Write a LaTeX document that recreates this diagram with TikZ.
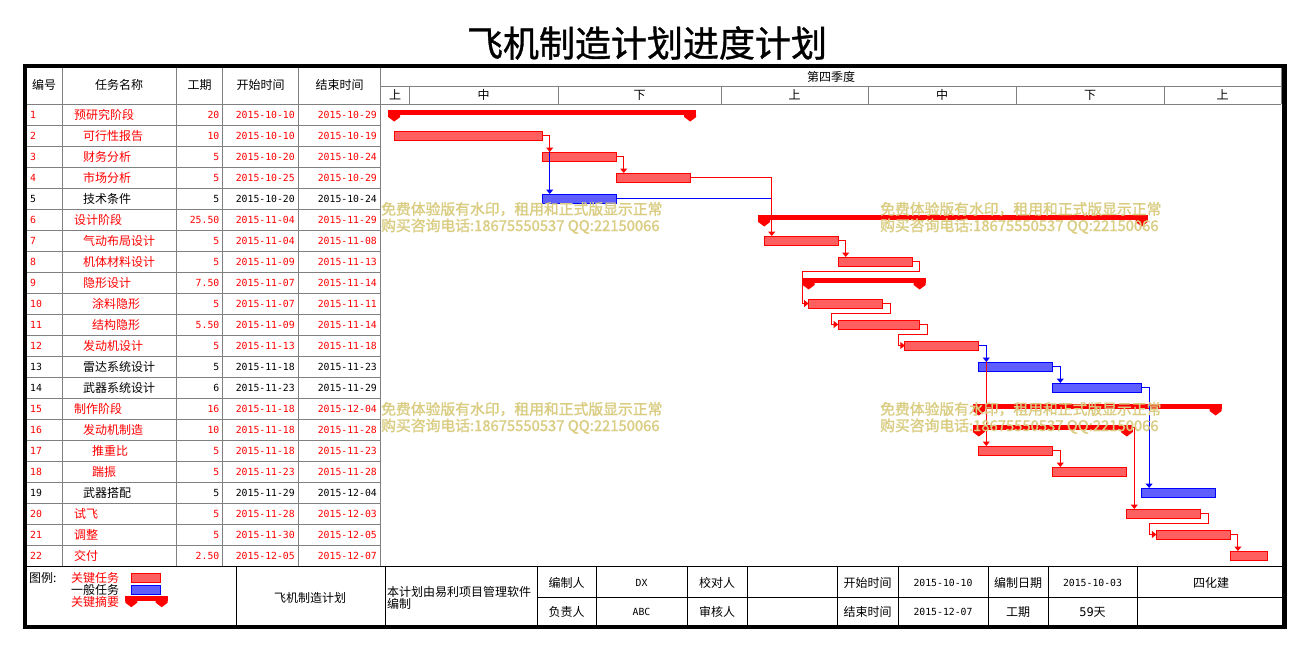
\documentclass[tikz,border=0pt]{standalone}
\usepackage{fontspec}
\setmainfont{Noto Sans CJK SC}
\newfontfamily\monof{DejaVu Sans Mono}
\newfontfamily\wmf{Noto Sans CJK SC}[FakeBold=1.5]
\newfontfamily\ttlf{Noto Sans CJK SC}[FakeBold=1]
\usetikzlibrary{arrows.meta,calc}
\definecolor{wmcol}{RGB}{218,205,130}
\definecolor{gridc}{RGB}{128,128,128}
\definecolor{pblue}{RGB}{0,0,255}
\definecolor{critfill}{RGB}{255,95,95}
\definecolor{genfill}{RGB}{95,95,255}
\newcommand\mysum[4]{%
  \node[sumbar, anchor=north west, minimum width={#3-#2+12}] (#1) at ({#2-6},{#4-4.5}) {};
  \fill[red] (#1.south west) -- ++(0,2) -- ++(6,4.5) -- ++(6,-4.5) -- ++(0,-2) -- cycle;
  \fill[red] (#1.south east) -- ++(0,2) -- ++(-6,4.5) -- ++(-6,-4.5) -- ++(0,-2) -- cycle;}
\tikzset{
  crit/.style={draw=red, line width=1pt, fill=critfill, inner sep=0pt, outer sep=0pt, minimum height=9pt},
  gen/.style={draw=pblue, line width=1pt, fill=genfill, inner sep=0pt, outer sep=0pt, minimum height=9pt},
  sumbar/.style={fill=red, inner sep=0pt, outer sep=0pt, minimum height=5pt},
  rlink/.style={draw=red, line width=1pt, -{Triangle[width=7pt,length=4.5pt]}},
  blink/.style={draw=pblue, line width=1pt, -{Triangle[width=7pt,length=4.5pt]}},
  grid/.style={draw=gridc, line width=1pt},
  cj/.style={inner sep=0pt, font=\fontsize{12}{12}\selectfont},
  mn/.style={inner sep=0pt, font=\monof\fontsize{9.8}{10}\selectfont},
  wm/.style={inner sep=0pt, text=wmcol, font=\wmf\fontsize{14.8}{15}\selectfont, anchor=base west},
}
\begin{document}
\begin{tikzpicture}[x=1pt,y=-1pt]
\useasboundingbox (0,0) rectangle (1309,651);
\fill[white] (0,0) rectangle (1309,651);
% title
\node[inner sep=0pt, font=\ttlf\fontsize{36}{36}\selectfont] (title) at (647,43) {飞机制造计划进度计划};
% table grid
\foreach \k in {0,...,21} \draw[grid] (26,{104+21*\k}) -- (380.5,{104+21*\k});
\foreach \xx in {62.5,176.5,222.5,298.5,380.5} \draw[grid] (\xx,66) -- (\xx,566);
% gantt header grid
\draw[grid] (380.5,86) -- (1281,86);
\draw[grid] (380.5,104) -- (1281,104);
\draw[grid] (1281,66) -- (1281,104);
\foreach \xx in {409,558,721,868,1016,1164} \draw[grid] (\xx,86) -- (\xx,104);
% header texts
\node[cj] (h1) at (44,85) {编号};
\node[cj] (h2) at (119,85) {任务名称};
\node[cj] (h3) at (199.5,85) {工期};
\node[cj] (h4) at (260.5,85) {开始时间};
\node[cj] (h5) at (339.5,85) {结束时间};
\node[cj] (q4) at (831,77) {第四季度};
\node[cj] (d1) at (395,95) {上};
\node[cj] (d2) at (483.5,95) {中};
\node[cj] (d3) at (639.5,95) {下};
\node[cj] (d4) at (794.5,95) {上};
\node[cj] (d5) at (942,95) {中};
\node[cj] (d6) at (1090,95) {下};
\node[cj] (d7) at (1222.5,95) {上};
% rows
\foreach \rI/\rL/\rN/\rD/\rS/\rE/\rC in {
1/0/预研究阶段/20/2015-10-10/2015-10-29/red,
2/1/可行性报告/10/2015-10-10/2015-10-19/red,
3/1/财务分析/5/2015-10-20/2015-10-24/red,
4/1/市场分析/5/2015-10-25/2015-10-29/red,
5/1/技术条件/5/2015-10-20/2015-10-24/black,
6/0/设计阶段/25.50/2015-11-04/2015-11-29/red,
7/1/气动布局设计/5/2015-11-04/2015-11-08/red,
8/1/机体材料设计/5/2015-11-09/2015-11-13/red,
9/1/隐形设计/7.50/2015-11-07/2015-11-14/red,
10/2/涂料隐形/5/2015-11-07/2015-11-11/red,
11/2/结构隐形/5.50/2015-11-09/2015-11-14/red,
12/1/发动机设计/5/2015-11-13/2015-11-18/red,
13/1/雷达系统设计/5/2015-11-18/2015-11-23/black,
14/1/武器系统设计/6/2015-11-23/2015-11-29/black,
15/0/制作阶段/16/2015-11-18/2015-12-04/red,
16/1/发动机制造/10/2015-11-18/2015-11-28/red,
17/2/推重比/5/2015-11-18/2015-11-23/red,
18/2/踹振/5/2015-11-23/2015-11-28/red,
19/1/武器搭配/5/2015-11-29/2015-12-04/black,
20/0/试飞/5/2015-11-28/2015-12-03/red,
21/0/调整/5/2015-11-30/2015-12-05/red,
22/0/交付/2.50/2015-12-05/2015-12-07/red}{
  \node[mn, text=\rC, anchor=base west] (id\rI) at (30,{114.5+21*(\rI-1)+3.8}) {\rI};
  \node[cj, text=\rC, anchor=base west] (nm\rI) at ({74+9*\rL},{114.5+21*(\rI-1)+4.5}) {\rN};
  \node[mn, text=\rC, anchor=base east] (du\rI) at (219.5,{114.5+21*(\rI-1)+3.8}) {\rD};
  \node[mn, text=\rC, anchor=base east] (st\rI) at (295,{114.5+21*(\rI-1)+3.8}) {\rS};
  \node[mn, text=\rC, anchor=base east] (en\rI) at (377,{114.5+21*(\rI-1)+3.8}) {\rE};
}
% bars
\mysum{s1}{394.2}{690.2}{114.5}
\node[crit, anchor=west, minimum width=148] (b2) at (394.2,135.5) {};
\node[crit, anchor=west, minimum width=74] (b3) at (542.2,156.5) {};
\node[crit, anchor=west, minimum width=74] (b4) at (616.2,177.5) {};
\node[gen, anchor=west, minimum width=74] (b5) at (542.2,198.5) {};
\mysum{s6}{764.2}{1141.6}{219.5}
\node[crit, anchor=west, minimum width=74] (b7) at (764.2,240.5) {};
\node[crit, anchor=west, minimum width=74] (b8) at (838.2,261.5) {};
\mysum{s9}{808.6}{919.6}{282.5}
\node[crit, anchor=west, minimum width=74] (b10) at (808.6,303.5) {};
\node[crit, anchor=west, minimum width=81.4] (b11) at (838.2,324.5) {};
\node[crit, anchor=west, minimum width=74] (b12) at (904.8,345.5) {};
\node[gen, anchor=west, minimum width=74] (b13) at (978.8,366.5) {};
\node[gen, anchor=west, minimum width=88.8] (b14) at (1052.8,387.5) {};
\mysum{s15}{978.8}{1215.6}{408.5}
\mysum{s16}{978.8}{1126.8}{429.5}
\node[crit, anchor=west, minimum width=74] (b17) at (978.8,450.5) {};
\node[crit, anchor=west, minimum width=74] (b18) at (1052.8,471.5) {};
\node[gen, anchor=west, minimum width=74] (b19) at (1141.6,492.5) {};
\node[crit, anchor=west, minimum width=74] (b20) at (1126.8,513.5) {};
\node[crit, anchor=west, minimum width=74] (b21) at (1156.4,534.5) {};
\node[crit, anchor=west, minimum width=37] (b22) at (1230.4,555.5) {};
% connectors
\draw[blink] ($(b2.east)+(7.5,0)$) -- ($(b5.north west)+(7.5,0)$);
\draw[rlink] (b2.east) -| ($(b3.north west)+(7.5,0)$);
\draw[rlink] (b3.east) -| ($(b4.north west)+(7.5,0)$);
\draw[blink,-] (b5.east) -- ($(b7.west |- b5.east)+(7.5,0)$);
\draw[rlink] (b4.east) -| ($(b7.north west)+(7.5,0)$);
\draw[rlink] (b7.east) -| ($(b8.north west)+(7.5,0)$);
\draw[rlink] (b8.east) -- ++(7.5,0) -- ++(0,10) -| ($(b10.west)+(-6.5,0)$) -- (b10.west);
\draw[rlink] (b10.east) -- ++(7.5,0) -- ++(0,10) -| ($(b11.west)+(-6.5,0)$) -- (b11.west);
\draw[rlink] (b11.east) -- ++(7.5,0) -- ++(0,10) -| ($(b12.west)+(-6.5,0)$) -- (b12.west);
\draw[rlink] ($(b12.east)+(7.5,0)$) -- ($(b17.north west)+(7.5,0)$);
\draw[blink] (b12.east) -| ($(b13.north west)+(7.5,0)$);
\draw[blink] (b13.east) -| ($(b14.north west)+(7.5,0)$);
\draw[blink] (b14.east) -| ($(b19.north west)+(7.5,0)$);
\draw[rlink] (s16.east) -| ($(b20.north west)+(7.5,0)$);
\draw[rlink] (b17.east) -| ($(b18.north west)+(7.5,0)$);
\draw[rlink] (b20.east) -- ++(7.5,0) -- ++(0,10) -| ($(b21.west)+(-6.5,0)$) -- (b21.west);
\draw[rlink] (b21.east) -| ($(b22.north west)+(7.5,0)$);
% frame and footer
\draw[line width=1.5pt] (26,566.5) -- (1284,566.5);
\foreach \xx in {236,385,537,596,687,747,837,898,988,1048,1137} \draw[line width=1pt] (\xx,567) -- (\xx,626);
\draw[line width=1pt] (537,597) -- (1284,597);
\draw[line width=4.5pt] (25,66) rectangle (1284.5,627);
% legend
\node[cj, anchor=west] (lgt) at (29,578) {图例:};
\node[cj, anchor=west, text=red] (lgk) at (71,578) {关键任务};
\node[cj, anchor=west] (lgy) at (71,590) {一般任务};
\node[cj, anchor=west, text=red] (lgz) at (71,601.5) {关键摘要};
\node[crit, anchor=north west, minimum width=29.7] (lg1) at (131,573.3) {};
\node[gen, anchor=north west, minimum width=29.7] (lg2) at (131,585.2) {};
\mysum{lg3}{131.3}{161.7}{600.2}
% footer texts
\node[cj] (f0) at (310,598) {飞机制造计划};
\node[cj, anchor=west] (f1a) at (387,591.5) {本计划由易利项目管理软件};
\node[cj, anchor=west] (f1b) at (387,603.5) {编制};
\node[cj] (f2) at (566.5,582.5) {编制人};
\node[mn] (f3) at (641.5,582.5) {DX};
\node[cj] (f4) at (717,582.5) {校对人};
\node[cj] (f5) at (867.5,582.5) {开始时间};
\node[mn] (f6) at (943,582.5) {2015-10-10};
\node[cj] (f7) at (1018,582.5) {编制日期};
\node[mn] (f8) at (1092.5,582.5) {2015-10-03};
\node[cj] (f9) at (1211,582.5) {四化建};
\node[cj] (g2) at (566.5,612) {负责人};
\node[mn] (g3) at (641.5,612) {ABC};
\node[cj] (g4) at (717,612) {审核人};
\node[cj] (g5) at (867.5,612) {结束时间};
\node[mn] (g6) at (943,612) {2015-12-07};
\node[cj] (g7) at (1018,612) {工期};
\node[cj] (g8) at (1092.5,612) {{\monof 59}天};
% watermarks
\foreach \wx/\wy/\wn in {381/0/a,880/0/b,381/200/c,880/200/d}{
  \node[wm] (w1\wn) at (\wx,{214.5+\wy}) {免费体验版有水印，租用和正式版显示正常};
  \node[wm] (w2\wn) at (\wx,{231+\wy}) {购买咨询电话:18675550537 QQ:22150066};
}
\end{tikzpicture}
\end{document}
